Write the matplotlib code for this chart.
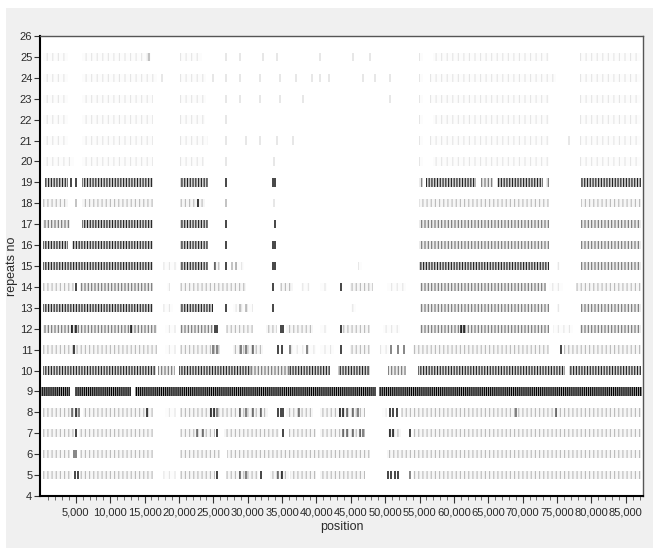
import matplotlib
matplotlib.use('Agg')
import matplotlib.pyplot as plt
from matplotlib.ticker import FixedLocator, FuncFormatter
from matplotlib.patches import Rectangle

plt.rcParams['font.family'] = ['Liberation Sans', 'DejaVu Sans']
plt.rcParams['hatch.linewidth'] = 0.8

# ---------------- data (positions in kb; level 1 = faint ... 5 = solid) ----------------
repeat_rows = list(range(5, 26))
x_ticks_kb = [5, 10, 15, 20, 25, 30, 35, 40, 45, 50, 55, 60, 65, 70, 75, 80, 85]
y_ticks = list(range(4, 27))

seg_r25 = [(0.2, 3.9, 1), (5.9, 16.0, 1), (20.2, 23.3, 1), (54.9, 55.5, 1), (57.0, 73.9, 1), (78.3, 87.2, 1)]
mark_r25 = [(26.9, 1), (28.9, 1), (32.3, 1), (34.2, 1), (40.5, 1), (45.3, 1), (47.8, 1), (15.6, 2)]

seg_r24 = [(0.2, 3.9, 1), (5.9, 16.8, 1), (20.2, 24.0, 1), (54.9, 55.5, 1), (56.5, 74.9, 1), (78.3, 87.2, 1)]
mark_r24 = [(17.5, 1), (25.0, 1), (26.9, 1), (28.9, 1), (31.8, 1), (34.7, 1), (37.1, 1), (39.3, 1),
            (40.5, 1), (41.9, 1), (46.8, 1), (48.5, 1), (50.7, 1)]

seg_r23 = [(0.2, 3.9, 1), (5.9, 16.3, 1), (20.2, 24.0, 1), (54.9, 55.5, 1), (56.5, 73.9, 1), (78.3, 87.2, 1)]
mark_r23 = [(26.9, 1), (28.9, 1), (31.8, 1), (34.7, 1), (38.1, 1), (50.7, 1)]

seg_r22 = [(0.2, 3.9, 1), (5.9, 16.3, 1), (20.2, 23.8, 1), (54.9, 55.5, 1), (57.0, 73.9, 1), (78.3, 87.2, 1)]
mark_r22 = [(26.9, 1)]

seg_r21 = [(0.2, 3.9, 1), (5.9, 16.3, 1), (20.2, 24.3, 1), (54.9, 55.5, 1), (56.5, 73.9, 1), (78.3, 87.2, 1)]
mark_r21 = [(26.9, 1), (29.8, 1), (31.8, 1), (34.2, 1), (36.6, 1), (76.8, 1)]

seg_r20 = [(0.2, 4.7, 1), (5.9, 16.3, 1), (20.2, 23.6, 1), (54.9, 55.5, 1), (57.0, 73.9, 1), (78.3, 87.2, 1)]
mark_r20 = [(26.9, 1), (33.9, 1)]

seg_r19 = [(0.5, 3.9, 4), (5.9, 16.3, 4), (20.2, 24.3, 4), (54.9, 55.5, 3), (56.0, 63.2, 4),
           (64.0, 65.7, 3), (66.2, 72.9, 4), (73.4, 73.9, 3), (78.5, 87.2, 4)]
mark_r19 = [(4.3, 4), (5.0, 4), (26.9, 4), (33.7, 4), (34.0, 4)]

seg_r18 = [(0.2, 3.9, 2), (5.9, 16.3, 2), (20.2, 23.8, 2), (54.9, 73.9, 2), (78.5, 87.2, 2)]
mark_r18 = [(5.1, 2), (22.8, 4), (26.9, 2), (33.9, 1)]

seg_r17 = [(0.3, 4.2, 3), (5.9, 16.3, 4), (20.2, 24.3, 4), (54.9, 73.9, 3), (78.5, 87.2, 3)]
mark_r17 = [(26.9, 4), (34.0, 4)]

seg_r16 = [(0.3, 3.9, 4), (4.4, 16.3, 4), (20.2, 24.3, 4), (54.9, 73.9, 3), (78.5, 87.2, 3)]
mark_r16 = [(26.9, 4), (33.7, 4), (34.0, 4)]

seg_r15 = [(0.3, 16.3, 4), (17.7, 19.7, 1), (20.2, 24.3, 4), (25.0, 26.0, 2), (27.9, 29.5, 1),
           (46.0, 46.6, 1), (54.9, 73.9, 4), (75.0, 75.5, 1), (78.5, 87.2, 3)]
mark_r15 = [(25.3, 3), (26.9, 4), (27.7, 2), (28.3, 2), (33.7, 4), (34.0, 4)]

seg_r14 = [(0.3, 4.7, 2), (5.6, 16.3, 3), (18.2, 18.7, 1), (20.2, 29.8, 2), (34.7, 36.6, 2), (37.8, 39.0, 1),
           (40.5, 41.5, 1), (44.9, 48.2, 2), (50.2, 53.1, 1), (55.0, 73.4, 3), (73.8, 75.8, 1), (77.8, 87.2, 2)]
mark_r14 = [(5.1, 4), (33.7, 4), (43.6, 4)]

seg_r13 = [(0.3, 16.3, 4), (17.7, 19.2, 1), (20.2, 25.0, 4), (27.9, 30.8, 1), (45.1, 45.8, 1),
           (55.0, 73.9, 3), (75.0, 75.5, 1), (78.5, 87.2, 3)]
mark_r13 = [(26.9, 4), (28.9, 2), (29.8, 2), (33.7, 4)]

seg_r12 = [(0.3, 16.8, 3), (18.0, 19.6, 1), (20.2, 25.0, 3), (26.9, 30.8, 2), (32.7, 34.2, 2), (35.6, 39.5, 2),
           (40.5, 41.5, 1), (43.4, 47.8, 2), (49.7, 52.1, 1), (55.0, 73.9, 3), (74.4, 77.3, 1), (78.3, 87.2, 3)]
mark_r12 = [(4.4, 4), (5.0, 4), (13.0, 4), (25.2, 4), (25.6, 4), (34.8, 4), (35.1, 4), (43.6, 4),
            (61.0, 4), (61.5, 4)]

seg_r11 = [(0.3, 16.8, 2), (18.0, 19.6, 1), (20.2, 26.0, 2), (27.9, 32.3, 2), (36.0, 40.0, 1), (40.5, 42.5, 1),
           (44.9, 47.8, 2), (49.2, 50.5, 1), (54.1, 73.9, 2), (76.0, 87.2, 2)]
mark_r11 = [(4.7, 4), (25.0, 3), (25.5, 3), (29.1, 3), (29.8, 3), (30.8, 3), (34.4, 4), (35.0, 4), (36.1, 3),
            (38.6, 3), (43.6, 4), (50.9, 3), (51.9, 3), (52.8, 3), (75.6, 4)]

seg_r10 = [(0.3, 16.6, 4), (17.0, 19.5, 3), (20.0, 30.5, 4), (30.5, 36.0, 3), (36.0, 42.0, 4), (43.2, 47.8, 4),
           (50.4, 53.1, 3), (54.8, 76.2, 4), (76.8, 87.2, 4)]
mark_r10 = []

seg_r09 = [(0.0, 4.1, 5), (4.9, 13.0, 5), (13.6, 48.6, 5), (49.1, 87.3, 5)]
mark_r09 = []

seg_r08 = [(0.3, 5.6, 2), (6.1, 16.3, 2), (18.0, 19.6, 1), (20.2, 33.0, 2), (35.6, 39.5, 2), (40.5, 47.0, 2),
           (49.5, 50.2, 1), (52.3, 87.2, 2)]
mark_r08 = [(4.5, 3), (5.0, 4), (5.4, 3), (15.3, 4), (24.6, 4), (25.1, 4), (25.6, 3), (28.9, 3), (29.8, 3),
            (30.8, 3), (31.9, 3), (34.4, 4), (34.9, 4), (35.2, 4), (37.5, 3), (43.4, 4), (43.9, 4), (44.4, 3),
            (45.3, 3), (46.0, 3), (50.7, 4), (51.2, 4), (51.7, 4), (69.1, 3), (74.9, 3)]

seg_r07 = [(0.3, 4.7, 2), (5.4, 16.3, 2), (20.2, 25.3, 2), (26.5, 34.5, 2), (36.0, 40.0, 2), (40.5, 47.0, 2),
           (50.4, 52.3, 2), (54.0, 87.2, 2)]
mark_r07 = [(5.0, 4), (22.6, 3), (23.5, 3), (25.6, 4), (35.2, 4), (43.9, 3), (44.4, 3), (45.3, 3), (46.3, 3),
            (46.8, 3), (50.7, 4), (51.2, 4), (53.6, 4)]

seg_r06 = [(0.3, 4.2, 2), (5.6, 16.3, 2), (20.2, 26.0, 2), (27.0, 47.8, 2), (50.2, 87.2, 2)]
mark_r06 = [(4.7, 3), (5.1, 3)]

seg_r05 = [(0.3, 4.5, 2), (5.6, 16.3, 2), (17.7, 19.6, 1), (20.2, 25.3, 2), (26.9, 31.5, 2), (33.2, 36.0, 2),
           (36.2, 40.0, 2), (40.5, 47.0, 2), (54.0, 87.2, 2)]
mark_r05 = [(4.9, 4), (5.3, 4), (25.6, 4), (28.9, 3), (29.8, 3), (32.0, 4), (34.4, 3), (35.0, 4),
            (50.4, 4), (50.9, 4), (51.4, 4), (51.9, 4), (53.6, 3)]

segments = {5: seg_r05, 6: seg_r06, 7: seg_r07, 8: seg_r08, 9: seg_r09, 10: seg_r10, 11: seg_r11,
            12: seg_r12, 13: seg_r13, 14: seg_r14, 15: seg_r15, 16: seg_r16, 17: seg_r17, 18: seg_r18,
            19: seg_r19, 20: seg_r20, 21: seg_r21, 22: seg_r22, 23: seg_r23, 24: seg_r24, 25: seg_r25}
marks = {5: mark_r05, 6: mark_r06, 7: mark_r07, 8: mark_r08, 9: mark_r09, 10: mark_r10, 11: mark_r11,
         12: mark_r12, 13: mark_r13, 14: mark_r14, 15: mark_r15, 16: mark_r16, 17: mark_r17, 18: mark_r18,
         19: mark_r19, 20: mark_r20, 21: mark_r21, 22: mark_r22, 23: mark_r23, 24: mark_r24, 25: mark_r25}

# ---------------- styles ----------------
HATCH = {1: '|||', 2: '||||', 3: '|||||', 4: '||||||', 5: '||||||||'}
HCOL = {1: (0, 0, 0, 0.09), 2: (0, 0, 0, 0.24), 3: (0, 0, 0, 0.5), 4: (0, 0, 0, 0.85), 5: (0, 0, 0, 1.0)}
FCOL = {1: (0, 0, 0, 0.01), 2: (0, 0, 0, 0.035), 3: (0, 0, 0, 0.08), 4: (0, 0, 0, 0.16), 5: (0, 0, 0, 0.35)}
MCOL = {1: (0, 0, 0, 0.12), 2: (0, 0, 0, 0.3), 3: (0, 0, 0, 0.6), 4: (0, 0, 0, 0.92)}
BAR_H = 0.4

fig = plt.figure(figsize=(6.53, 5.48), dpi=100, facecolor='white')
fig.patches.append(Rectangle((6 / 653, 0), 1, 1 - 8 / 548, transform=fig.transFigure,
                             facecolor='#f0f0f0', edgecolor='none', zorder=-10))
ax = fig.add_axes([40 / 653, 1 - 496 / 548, 603 / 653, 460 / 548])
ax.set_facecolor('white')

for r in repeat_rows:
    for (s, e, lvl) in segments[r]:
        ax.barh(r, e - s, left=s, height=BAR_H, facecolor=FCOL[lvl], edgecolor=HCOL[lvl],
                hatch=HATCH[lvl], linewidth=0)
    for (p, lvl) in marks[r]:
        ax.vlines(p, r - BAR_H / 2, r + BAR_H / 2, colors=[MCOL[lvl]], linewidth=1.1)

ax.set_xlim(-0.2, 87.5)
ax.set_ylim(4, 26)
ax.xaxis.set_major_locator(FixedLocator(x_ticks_kb))
ax.xaxis.set_minor_locator(FixedLocator([v for v in range(1, 88) if v % 5 != 0]))
ax.xaxis.set_major_formatter(FuncFormatter(lambda v, _: f"{int(round(v * 1000)):,}"))
ax.yaxis.set_major_locator(FixedLocator(y_ticks))

ax.tick_params(axis='x', which='major', direction='out', length=5, width=0.8, color='#333333',
               labelsize=8, labelcolor='#2a2a2a', pad=3)
ax.tick_params(axis='x', which='minor', direction='out', length=3, width=0.6, color='#555555')
ax.tick_params(axis='y', which='major', direction='out', length=4, width=0.8, color='#333333',
               labelsize=8, labelcolor='#2a2a2a', pad=1.5)

for side in ('left', 'bottom'):
    ax.spines[side].set_color('black')
    ax.spines[side].set_linewidth(1.5)
for side in ('top', 'right'):
    ax.spines[side].set_color('#555555')
    ax.spines[side].set_linewidth(1.0)

ax.set_xlabel('position', fontsize=9, color='#2a2a2a')
ax.set_ylabel('repeats no', fontsize=9, color='#2a2a2a')
ax.xaxis.set_label_coords(0.5, -0.055)
ax.yaxis.set_label_coords(-0.036, 0.5)

fig.savefig('out.png', dpi=100, facecolor=fig.get_facecolor())
